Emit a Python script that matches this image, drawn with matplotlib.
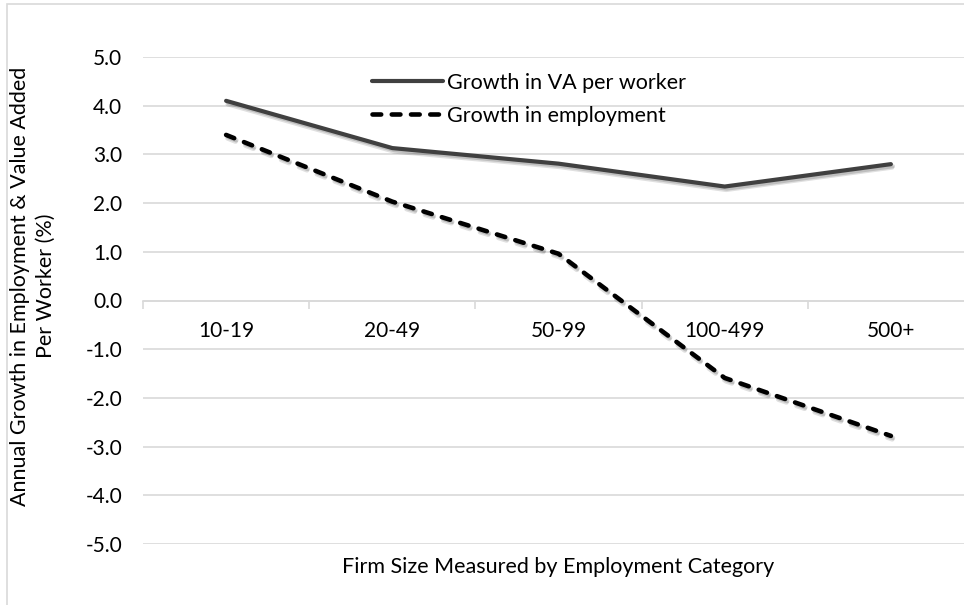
import numpy as np
import matplotlib
matplotlib.use("Agg")
import matplotlib.pyplot as plt
from matplotlib.patches import Rectangle
from matplotlib.lines import Line2D
import matplotlib.patheffects as pe

plt.rcParams['font.family'] = ['Lato', 'DejaVu Sans']

categories = ['10-19', '20-49', '50-99', '100-499', '500+']
va_growth = [4.10, 3.13, 2.81, 2.34, 2.80]
emp_growth = [3.40, 2.03, 0.96, -1.59, -2.78]
yticks = np.arange(-5, 5.1, 1.0)

W, H = 964, 605
fig = plt.figure(figsize=(W / 100, H / 100), dpi=100)

# axes: plot area runs past the right edge of the picture (cropped chart)
left, right, top, bottom = 143, 974, 57, 544
ax = fig.add_axes([left / W, 1 - bottom / H, (right - left) / W, (bottom - top) / H])

xs = np.arange(len(categories))
shadow = [pe.SimpleLineShadow(offset=(1.0, -2.5), shadow_color='k', alpha=0.12),
          pe.SimpleLineShadow(offset=(1.5, -1.5), shadow_color='k', alpha=0.15),
          pe.Normal()]

va_color = '#404040'
emp_dash = (0, (1.9, 2.3))

ax.plot(xs, va_growth, color=va_color, lw=3.0, solid_capstyle='round',
        solid_joinstyle='round', zorder=3, path_effects=shadow)
ax.plot(xs, emp_growth, color='black', lw=3.3, linestyle=emp_dash,
        dash_capstyle='round', dash_joinstyle='round', zorder=3,
        path_effects=shadow)

ax.set_xlim(-0.5, len(categories) - 0.5)
ax.set_ylim(-5, 5)

# grid + axes styling
grid_color = '#d9d9d9'
ax.set_yticks(yticks)
ax.set_yticklabels([f'{v:.1f}' for v in yticks])
ax.yaxis.grid(True, color=grid_color, lw=1.2)
ax.set_axisbelow(True)
for s in ['left', 'right', 'top']:
    ax.spines[s].set_visible(False)
ax.spines['bottom'].set_position(('data', 0))
ax.spines['bottom'].set_color(grid_color)
ax.spines['bottom'].set_linewidth(1.2)

ax.set_xticks(xs)
ax.set_xticklabels(categories)
ax.set_xticks(np.arange(-0.5, len(categories), 1.0), minor=True)
ax.tick_params(axis='x', which='major', length=0, pad=15, labelsize=15, colors='#000000')
ax.tick_params(axis='x', which='minor', length=6, width=1.2, color=grid_color, direction='out')
ax.tick_params(axis='y', length=0, pad=15, labelsize=15)

fig.text(33 / W, 1 - 286 / H,
         'Annual Growth in Employment & Value Added\nPer Worker (%)',
         rotation=90, ha='center', va='center', multialignment='center',
         fontsize=15.5, linespacing=1.4)
fig.text(558 / W, 1 - 567 / H, 'Firm Size Measured by Employment Category',
         ha='center', va='center', fontsize=15.5)

handles = [Line2D([], [], color=va_color, lw=3.0, solid_capstyle='round'),
           Line2D([], [], color='black', lw=3.3, linestyle=emp_dash,
                  dash_capstyle='round')]
fig.legend(handles, ['Growth in VA per worker', 'Growth in employment'],
           loc='upper left', bbox_to_anchor=(372 / W, 1 - 73 / H),
           frameon=False, fontsize=15.5, handlelength=3.3, handletextpad=0.2,
           labelspacing=0.6, borderpad=0, borderaxespad=0)

# outer chart border (only left and top are inside the picture)
fig.patches.append(Rectangle((7 / W, -0.1), 1.2, 1.1 - 4 / H,
                             transform=fig.transFigure, fill=False,
                             edgecolor=grid_color, lw=1.2))

fig.savefig('out.png', dpi=100)
